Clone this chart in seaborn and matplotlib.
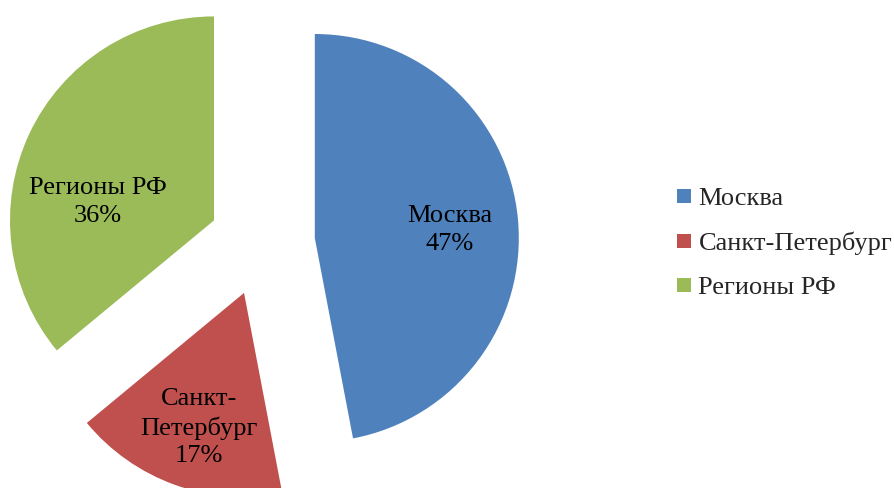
import matplotlib
matplotlib.use("Agg")
import matplotlib.pyplot as plt
import seaborn as sns
from matplotlib.lines import Line2D

# data
categories = ["Москва", "Санкт-Петербург", "Регионы РФ"]
shares = [47, 17, 36]
slice_labels = ["Москва", "Санкт-\nПетербург", "Регионы РФ"]
colors = ["#4F81BD", "#C0504D", "#9BBB59"]

# where each label sits inside its slice, relative to the slice tip (radius units)
label_offsets = [(0.66, 0.04), (-0.22, -0.66), (-0.57, 0.09)]

sns.set_theme(style="white")
plt.rcParams['font.family'] = ['Liberation Serif', 'DejaVu Serif']

fig = plt.figure(figsize=(8.95, 4.88), dpi=100)
ax = fig.add_axes([0, 0, 1, 1])

wedges, texts, autotexts = ax.pie(
    shares, colors=colors, startangle=90, counterclock=False,
    explode=[0.26] * len(shares), pctdistance=0.66, autopct='%1.0f%%',
    wedgeprops={'linewidth': 0},
    textprops={'fontsize': 19, 'color': 'black', 'linespacing': 1.32})
for w, t, name, (dx, dy) in zip(wedges, autotexts, slice_labels, label_offsets):
    t.set_text(f"{name}\n{t.get_text()}")
    t.set_multialignment('center')
    cx, cy = w.center
    t.set_position((cx + dx, cy + dy))

# radius ~204 px, pie centre at (262, 243) px from top-left
r = 204
ax.set_xlim(-262 / r, (895 - 262) / r)
ax.set_ylim(-245 / r, 243 / r)
ax.set_aspect('equal')
ax.axis('off')

handles = [Line2D([], [], marker='s', linestyle='none', markersize=9.5,
                  markerfacecolor=c, markeredgewidth=0) for c in colors]
fig.legend(handles, categories, loc='center left', bbox_to_anchor=(676 / 895, 0.502),
           frameon=False, fontsize=19, handlelength=0.6, handletextpad=0.25,
           labelspacing=0.8, borderpad=0, borderaxespad=0)

fig.savefig("out.png", dpi=100)
